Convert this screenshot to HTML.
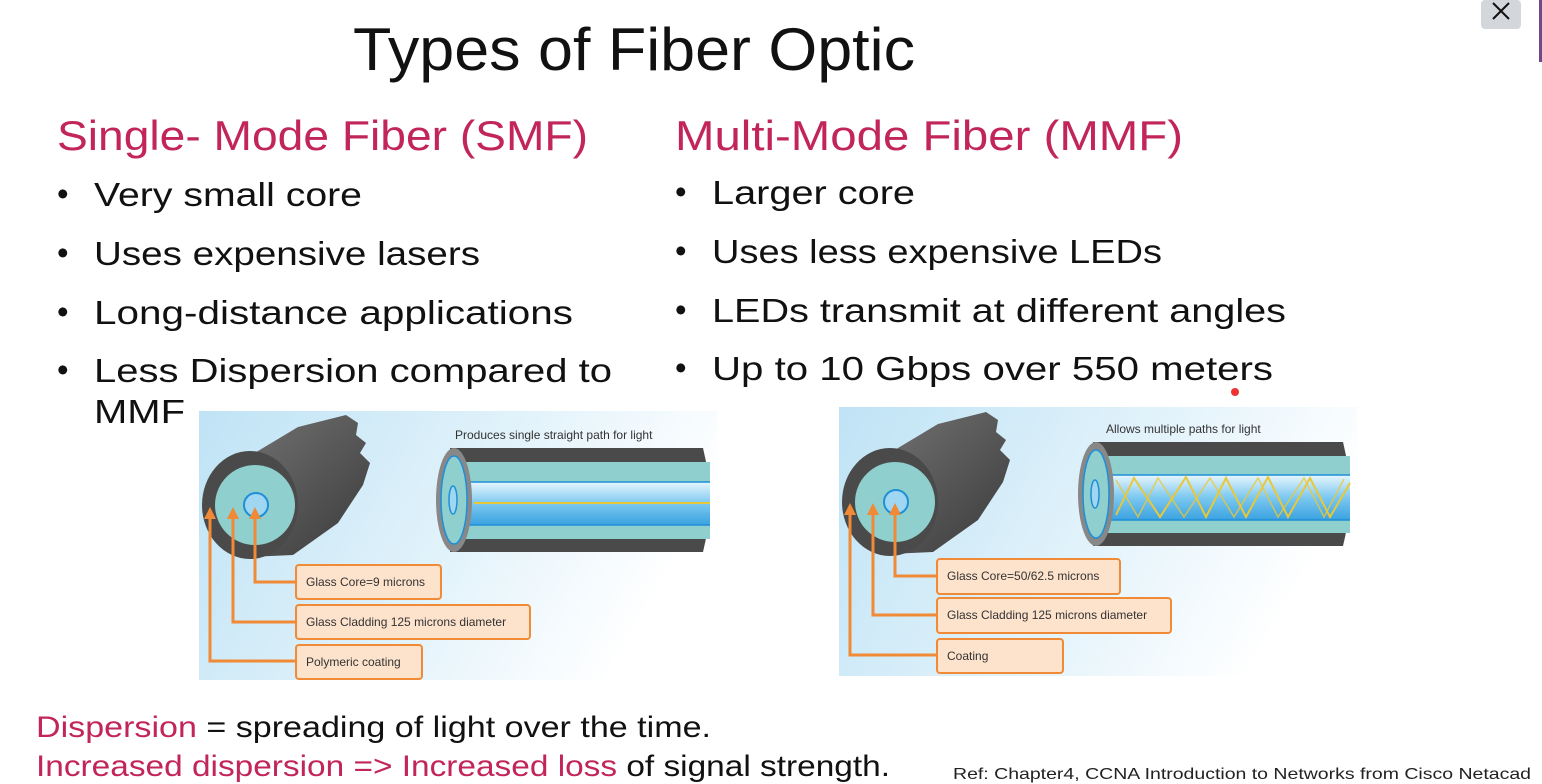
<!DOCTYPE html>
<html><head><meta charset="utf-8"><style>
html,body{margin:0;padding:0;background:#fff;width:1542px;height:784px;overflow:hidden}
svg{display:block}
text{font-family:"Liberation Sans",sans-serif}
</style></head><body>
<svg width="1542" height="784" viewBox="0 0 1542 784" xmlns="http://www.w3.org/2000/svg">
<defs>
<linearGradient id="bg" x1="0" y1="0" x2="1" y2="0.3">
<stop offset="0" stop-color="#bfe3f5"/><stop offset="0.6" stop-color="#e3f3fb"/><stop offset="1" stop-color="#ffffff"/>
</linearGradient>
<linearGradient id="core" x1="0" y1="0" x2="0" y2="1">
<stop offset="0" stop-color="#e8f6fd"/><stop offset="0.5" stop-color="#7cc8f0"/><stop offset="1" stop-color="#3aa2e0"/>
</linearGradient>
<linearGradient id="body" x1="0" y1="0" x2="1" y2="1">
<stop offset="0" stop-color="#777"/><stop offset="1" stop-color="#3a3a3a"/>
</linearGradient>
<g id="cyl">
<path d="M20,70 L100,22 L148,10 L160,18 L158,30 L168,38 L162,48 L172,58 L165,80 L140,118 L95,150 L50,152 Z" fill="url(#body)"/>
<ellipse cx="52" cy="100" rx="48" ry="54" fill="#4a4a4a"/>
<circle cx="57" cy="100" r="40" fill="#8fcfcd"/>
<circle cx="58" cy="100" r="12" fill="#9fd7f2" stroke="#1e8fd8" stroke-width="2"/>
</g>
</defs>
<text x="353" y="70" font-size="60" fill="#111" textLength="562" lengthAdjust="spacingAndGlyphs">Types of Fiber Optic</text>
<rect x="1481" y="0" width="40" height="29" rx="4" fill="#d3d7db"/>
<path d="M1493,3 L1509,19 M1509,3 L1493,19" stroke="#111" stroke-width="2"/>
<rect x="1539" y="0" width="3" height="62" fill="#6b4a8a"/>
<text x="57" y="150" font-size="42" fill="#c2255a" textLength="531" lengthAdjust="spacingAndGlyphs">Single- Mode Fiber (SMF)</text>
<text x="675" y="150" font-size="42" fill="#c2255a" textLength="508" lengthAdjust="spacingAndGlyphs">Multi-Mode Fiber (MMF)</text>
<g font-size="33" fill="#111">
<text x="57" y="205">•</text><text x="94" y="206" textLength="268" lengthAdjust="spacingAndGlyphs">Very small core</text>
<text x="57" y="264">•</text><text x="94" y="265" textLength="386" lengthAdjust="spacingAndGlyphs">Uses expensive lasers</text>
<text x="57" y="323">•</text><text x="94" y="324" textLength="479" lengthAdjust="spacingAndGlyphs">Long-distance applications</text>
<text x="57" y="381">•</text><text x="94" y="382" textLength="518" lengthAdjust="spacingAndGlyphs">Less Dispersion compared to</text>
<text x="94" y="423" textLength="91" lengthAdjust="spacingAndGlyphs">MMF</text>
<text x="675" y="203">•</text><text x="712" y="204" textLength="203" lengthAdjust="spacingAndGlyphs">Larger core</text>
<text x="675" y="262">•</text><text x="712" y="263" textLength="450" lengthAdjust="spacingAndGlyphs">Uses less expensive LEDs</text>
<text x="675" y="321">•</text><text x="712" y="322" textLength="574" lengthAdjust="spacingAndGlyphs">LEDs transmit at different angles</text>
<text x="675" y="379">•</text><text x="712" y="380" textLength="561" lengthAdjust="spacingAndGlyphs">Up to 10 Gbps over 550 meters</text>
</g>
<circle cx="1235" cy="392" r="4" fill="#e33"/>

<g transform="translate(198,405)">
<rect x="1" y="6" width="518" height="269" fill="url(#bg)"/>
<use href="#cyl"/>
<text x="257" y="34" font-size="12" fill="#333">Produces single straight path for light</text>
<path d="M252,43 L505,43 Q518,95 505,147 L252,147 Z" fill="#4a4a4a"/>
<rect x="268" y="57" width="244" height="77" fill="#8fcfcd"/>
<rect x="268" y="77" width="244" height="43" fill="url(#core)"/>
<line x1="268" y1="77" x2="512" y2="77" stroke="#1e8fd8" stroke-width="1.5"/>
<line x1="268" y1="120" x2="512" y2="120" stroke="#1e8fd8" stroke-width="1.5"/>
<line x1="276" y1="98" x2="512" y2="98" stroke="#e8c83a" stroke-width="2"/>
<ellipse cx="256" cy="95" rx="18" ry="52" fill="#888"/>
<ellipse cx="256" cy="95" rx="13" ry="44" fill="#8fcfcd" stroke="#1e8fd8" stroke-width="1.5"/>
<ellipse cx="255" cy="95" rx="4" ry="14" fill="#9fd7f2" stroke="#1e8fd8" stroke-width="1.5"/>
<g fill="none" stroke="#f08a36" stroke-width="3">
<path d="M57,112 V177 H98"/><path d="M35,112 V217 H98"/><path d="M12,112 V256 H98"/>
</g>
<g fill="#f08a36"><path d="M51,114 L57,102 L63,114Z"/><path d="M29,114 L35,102 L41,114Z"/><path d="M6,114 L12,102 L18,114Z"/></g>
<g fill="#fde2cc" stroke="#f08a36" stroke-width="2">
<rect x="98" y="160" width="145" height="34" rx="3"/><rect x="98" y="200" width="234" height="34" rx="3"/><rect x="98" y="240" width="126" height="34" rx="3"/>
</g>
<g font-size="12" fill="#333"><text x="108" y="181">Glass Core=9 microns</text><text x="108" y="221">Glass Cladding 125 microns diameter</text><text x="108" y="261">Polymeric coating</text></g>
</g>

<g transform="translate(838,405)">
<rect x="1" y="2" width="518" height="269" fill="url(#bg)"/>
<use href="#cyl" transform="translate(0,-3)"/>
<text x="268" y="28" font-size="12" fill="#333">Allows multiple paths for light</text>
<path d="M255,37 L505,37 Q518,89 505,141 L255,141 Z" fill="#4a4a4a"/>
<rect x="270" y="51" width="242" height="77" fill="#8fcfcd"/>
<rect x="270" y="70" width="242" height="45" fill="url(#core)"/>
<line x1="270" y1="70" x2="512" y2="70" stroke="#1e8fd8" stroke-width="1.5"/>
<line x1="270" y1="115" x2="512" y2="115" stroke="#1e8fd8" stroke-width="1.5"/>
<polyline points="278,110 296,73 322,112 348,72 368,112 388,73 408,112 430,72 450,112 472,73 492,112 512,78" fill="none" stroke="#e8c83a" stroke-width="2"/>
<polyline points="278,75 300,112 320,73 346,112 372,73 396,112 420,73 440,112 466,73 486,112 506,74" fill="none" stroke="#e8c83a" stroke-width="1.5" opacity="0.8"/>
<ellipse cx="258" cy="89" rx="18" ry="52" fill="#888"/>
<ellipse cx="258" cy="89" rx="13" ry="44" fill="#8fcfcd" stroke="#1e8fd8" stroke-width="1.5"/>
<ellipse cx="257" cy="89" rx="4" ry="14" fill="#9fd7f2" stroke="#1e8fd8" stroke-width="1.5"/>
<g fill="none" stroke="#f08a36" stroke-width="3">
<path d="M57,108 V171 H99"/><path d="M35,108 V210 H99"/><path d="M12,108 V250 H99"/>
</g>
<g fill="#f08a36"><path d="M51,110 L57,98 L63,110Z"/><path d="M29,110 L35,98 L41,110Z"/><path d="M6,110 L12,98 L18,110Z"/></g>
<g fill="#fde2cc" stroke="#f08a36" stroke-width="2">
<rect x="99" y="154" width="183" height="35" rx="3"/><rect x="99" y="193" width="234" height="35" rx="3"/><rect x="99" y="234" width="126" height="34" rx="3"/>
</g>
<g font-size="12" fill="#333"><text x="109" y="175">Glass Core=50/62.5 microns</text><text x="109" y="214">Glass Cladding 125 microns diameter</text><text x="109" y="255">Coating</text></g>
</g>

<text x="36" y="737" font-size="30" fill="#111" textLength="675" lengthAdjust="spacingAndGlyphs"><tspan fill="#c2255a">Dispersion</tspan> = spreading of light over the time.</text>
<text x="36" y="776" font-size="30" fill="#111" textLength="854" lengthAdjust="spacingAndGlyphs"><tspan fill="#c2255a">Increased dispersion =&gt; Increased loss</tspan> of signal strength.</text>
<text x="953" y="779" font-size="16" fill="#222" textLength="578" lengthAdjust="spacingAndGlyphs">Ref: Chapter4, CCNA Introduction to Networks from Cisco Netacad</text>
</svg>
</body></html>
